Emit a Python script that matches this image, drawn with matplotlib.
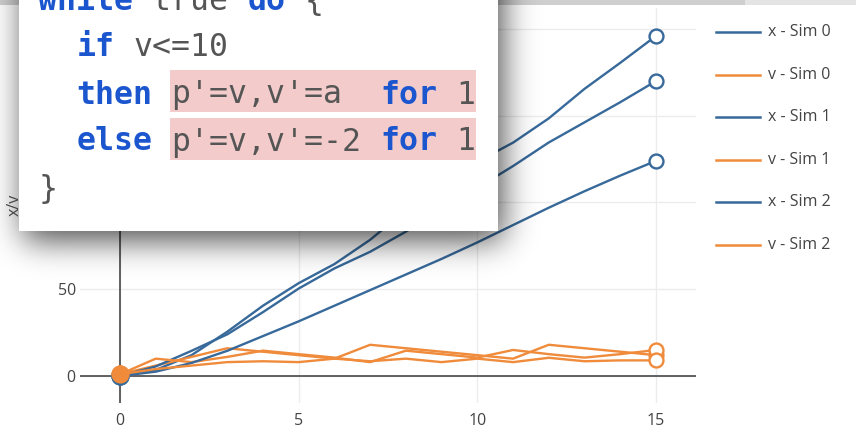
import math
import numpy as np
import matplotlib
matplotlib.use("Agg")
import matplotlib.pyplot as plt
from matplotlib.patches import Rectangle

# simulation time steps
t = list(range(16))

# position traces
x_sim0 = [0, 3.5, 12, 25.5, 40.5, 53.5, 64.5, 78.5, 95.5, 110.5, 123.5, 134.5, 148.5, 165.5, 180.5, 196]
x_sim1 = [0, 5.5, 14.5, 24, 36.8, 50.4, 62, 71.6, 83.2, 96.8, 108.4, 121, 134.6, 146.2, 157.8, 170]
x_sim2 = [0, 2.5, 7.5, 14.5, 23, 31.5, 40.5, 49.5, 58.5, 67.5, 77, 87, 97, 106.5, 115.5, 124]

# velocity traces
v_sim0 = [1, 6, 11, 16, 14, 12, 10, 18, 16, 14, 12, 10, 18, 16, 14, 12]
v_sim1 = [1, 10, 8, 11, 14.6, 12.6, 10.6, 8, 14.6, 12.6, 10.6, 15, 12.6, 10.6, 12.6, 15]
v_sim2 = [1, 4, 6, 8, 8.5, 8, 10, 8.5, 10, 8, 10, 8, 10.5, 8.5, 9, 9]

traces = [
    ("x - Sim 0", x_sim0), ("v - Sim 0", v_sim0),
    ("x - Sim 1", x_sim1), ("v - Sim 1", v_sim1),
    ("x - Sim 2", x_sim2), ("v - Sim 2", v_sim2),
]

BLUE = "#37699a"
ORANGE = "#ef8b3b"
W, H = 856, 432

fig = plt.figure(figsize=(W / 100, H / 100), dpi=100)

# plot area in pixel units (left, top, right, bottom)
pl, pt, pr, pb = 80, 8, 696, 403
ax = fig.add_axes([pl / W, 1 - pb / H, (pr - pl) / W, (pb - pt) / H])
ax.set_xlim(-1.12, 16.12)
ax.set_ylim(-15.56, 212.1)
for s in ax.spines.values():
    s.set_visible(False)
ax.set_xticks([0, 5, 10, 15])
ax.set_yticks([0, 50, 100, 150, 200])
ax.tick_params(length=0, labelsize=11.5, labelcolor="#444444")
ax.tick_params(axis="x", pad=7)
ax.tick_params(axis="y", pad=3)
for lab in ax.get_xticklabels() + ax.get_yticklabels():
    lab.set_family("Open Sans")
ax.grid(True, color="#ececec", lw=1)
ax.set_axisbelow(True)
ax.axhline(0, color="#555555", lw=1.3, zorder=1)
ax.axvline(0, color="#555555", lw=1.3, zorder=1)

for name, vals in traces:
    c = BLUE if name.startswith("x") else ORANGE
    ax.plot(t, vals, color=c, lw=1.7, zorder=3, solid_joinstyle="round")
    ax.plot(t[:1], vals[:1], "o", color=c, ms=12, mec=c, zorder=4)
    ax.plot(t[-1:], vals[-1:], "o", mfc="white", mec=c, mew=1.7, ms=10, zorder=4)

# overlay in pixel coordinates: legend, code popup with drop shadow
ov = fig.add_axes([0, 0, 1, 1], zorder=5)
ov.axis("off")
ov.patch.set_alpha(0)

ov.text(15, 205, "x/v", rotation=90, ha="center", va="center",
        family="Open Sans", fontsize=11.5, color="#444444")

ov.add_patch(Rectangle((0, 0), 745, 5, color="#cfcfcf", lw=0))
ov.add_patch(Rectangle((745, 0), W - 745, 5, color="#e4e4e4", lw=0))

for i, (name, vals) in enumerate(traces):
    c = BLUE if name.startswith("x") else ORANGE
    y = 32 + i * 42.6
    ov.plot([716, 760], [y, y], color=c, lw=1.8)
    ov.text(768, y, name, va="center", ha="left", family="Open Sans",
            fontsize=11.5, color="#444444")

# popup box and its soft shadow
bx0, bx1, by1 = 19, 498, 231
sig, dx, dy = 16.0, 4, 9
phi = lambda z: 0.5 * (1 + math.erf(z / math.sqrt(2)))
fx = np.array([phi((x - bx0 - dx) / sig) - phi((x - bx1 - dx) / sig) for x in range(W)])
fy = np.array([phi((by1 + dy - y) / sig) for y in range(H)])
shadow = np.zeros((H, W, 4))
shadow[..., 3] = 0.7 * np.outer(fy, fx)
ov.imshow(shadow, extent=(0, W, H, 0), interpolation="bilinear", zorder=1)
ov.set_xlim(0, W)
ov.set_ylim(H, 0)
ov.set_aspect("auto")

ov.add_patch(Rectangle((bx0, -10), bx1 - bx0, by1 + 10, color="white", lw=0, zorder=2))

HL = "#f3cbcb"
ov.add_patch(Rectangle((170, 70), 306, 42, color=HL, lw=0, zorder=3))
ov.add_patch(Rectangle((170, 118), 306, 42, color=HL, lw=0, zorder=3))

KW = "#1c56cf"
TXT = "#555555"
cw, col0 = 19.0, 38.5
code = [
    (9.5, [(0, "while", True), (6, "true", False), (11, "do", True), (14, "{", False)]),
    (56.5, [(2, "if", True), (5, "v<=10", False)]),
    (103.5, [(2, "then", True), (7, "p'=v,v'=a", False), (18, "for", True), (22, "1", False)]),
    (150.5, [(2, "else", True), (7, "p'=v,v'=-2", False), (18, "for", True), (22, "1", False)]),
    (197.5, [(0, "}", False)]),
]
for base, toks in code:
    for col, s, kw in toks:
        ov.text(col0 + col * cw, base, s, ha="left", va="baseline",
                family="DejaVu Sans Mono", fontsize=22.7,
                fontweight="bold" if kw else "normal",
                color=KW if kw else TXT, zorder=4)

fig.savefig("out.png", dpi=100)
